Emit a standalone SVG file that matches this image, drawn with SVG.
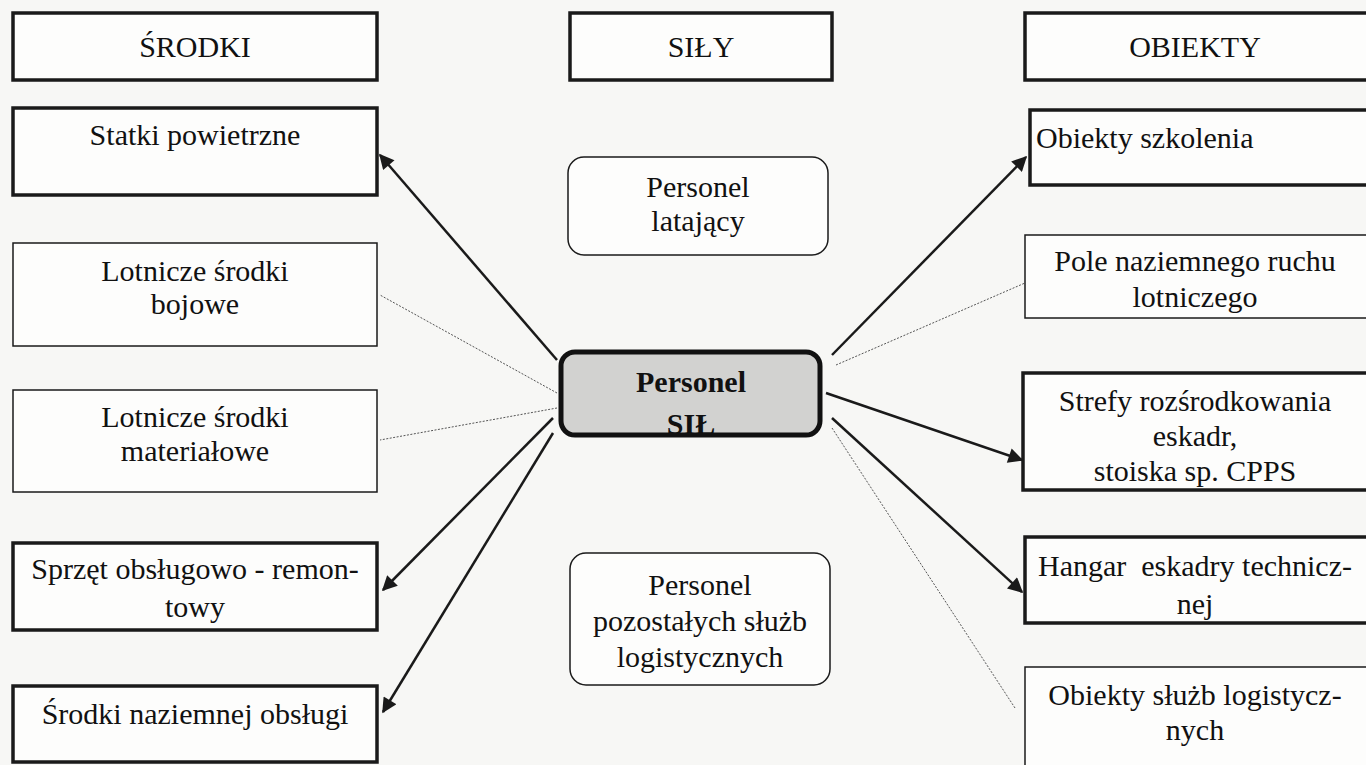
<svg xmlns="http://www.w3.org/2000/svg" width="1366" height="765" viewBox="0 0 1366 765">
<defs>
<style>
.t{font-family:"Liberation Serif","Times New Roman",serif;font-size:30px;fill:#111;text-anchor:middle}
.b{font-weight:bold}
.thick{fill:#fdfdfc;stroke:#1a1a1a;stroke-width:3.5}
.thin{fill:#fdfdfc;stroke:#1a1a1a;stroke-width:1.5}
.arr{stroke:#1a1a1a;stroke-width:2.5;fill:none;marker-end:url(#ah)}
.dot{stroke:#555;stroke-width:1;fill:none;stroke-dasharray:2 1.5}
</style>
<marker id="ah" viewBox="0 0 10 10" refX="9" refY="5" markerWidth="7" markerHeight="6" markerUnits="strokeWidth" orient="auto">
<path d="M0,0 L10,5 L0,10 z" fill="#1a1a1a"/>
</marker>
</defs>
<rect width="1366" height="765" fill="#f7f7f5"/>

<g id="connectors">
<line class="arr" x1="557" y1="360" x2="380" y2="155"/>
<line class="dot" x1="557" y1="393" x2="380" y2="295"/>
<line class="dot" x1="557" y1="408" x2="380" y2="440"/>
<line class="arr" x1="553" y1="418" x2="383" y2="590"/>
<line class="arr" x1="553" y1="433" x2="383" y2="712"/>
<line class="arr" x1="832" y1="355" x2="1026" y2="157"/>
<line class="dot" x1="836" y1="365" x2="1025" y2="283"/>
<line class="arr" x1="826" y1="393" x2="1022" y2="460"/>
<line class="arr" x1="832" y1="418" x2="1022" y2="592"/>
<line class="dot" x1="832" y1="428" x2="1015" y2="708"/>
</g>

<g id="srodki">
<rect class="thick" x="13" y="13" width="364" height="67"/>
<text class="t" x="195" y="57">ŚRODKI</text>
</g>
<g id="statki">
<rect class="thick" x="13" y="108" width="364" height="87"/>
<text class="t" x="195" y="145">Statki powietrzne</text>
</g>
<g id="bojowe">
<rect class="thin" x="13" y="243" width="364" height="103"/>
<text class="t" x="195" y="281">Lotnicze środki</text>
<text class="t" x="195" y="314">bojowe</text>
</g>
<g id="materialowe">
<rect class="thin" x="13" y="390" width="364" height="102"/>
<text class="t" x="195" y="427">Lotnicze środki</text>
<text class="t" x="195" y="461">materiałowe</text>
</g>
<g id="sprzet">
<rect class="thick" x="13" y="543" width="364" height="87"/>
<text class="t" x="195" y="579">Sprzęt obsługowo - remon-</text>
<text class="t" x="195" y="617">towy</text>
</g>
<g id="naziemne">
<rect class="thick" x="13" y="686" width="364" height="76"/>
<text class="t" x="195" y="724">Środki naziemnej obsługi</text>
</g>

<g id="sily">
<rect class="thick" x="570" y="13" width="262" height="67"/>
<text class="t" x="701" y="57">SIŁY</text>
</g>
<g id="latajacy">
<rect class="thin" x="568" y="157" width="260" height="98" rx="16"/>
<text class="t" x="698" y="197">Personel</text>
<text class="t" x="698" y="231">latający</text>
</g>
<g id="personel-sil">
<rect x="561" y="352" width="259" height="83" rx="14" fill="#d2d2d0"/>
<text class="t b" x="691" y="392">Personel</text>
<text class="t b" x="691" y="434">SIŁ</text>
<rect x="561" y="352" width="259" height="83" rx="14" fill="none" stroke="#111" stroke-width="5"/>
</g>
<g id="pozostali">
<rect class="thin" x="570" y="553" width="260" height="132" rx="16"/>
<text class="t" x="700" y="595">Personel</text>
<text class="t" x="700" y="631">pozostałych służb</text>
<text class="t" x="700" y="667">logistycznych</text>
</g>

<g id="obiekty">
<rect class="thick" x="1025" y="13" width="350" height="67"/>
<text class="t" x="1195" y="57">OBIEKTY</text>
</g>
<g id="szkolenia">
<rect class="thick" x="1030" y="110" width="345" height="75"/>
<text class="t" x="1036" y="148" style="text-anchor:start">Obiekty szkolenia</text>
</g>
<g id="pole">
<rect class="thin" x="1025" y="235" width="350" height="83"/>
<text class="t" x="1195" y="271">Pole naziemnego ruchu</text>
<text class="t" x="1195" y="307">lotniczego</text>
</g>
<g id="strefy">
<rect class="thick" x="1023" y="373" width="352" height="117"/>
<text class="t" x="1195" y="411">Strefy rozśrodkowania</text>
<text class="t" x="1195" y="446">eskadr,</text>
<text class="t" x="1195" y="481">stoiska sp. CPPS</text>
</g>
<g id="hangar">
<rect class="thick" x="1025" y="537" width="350" height="86"/>
<text class="t" x="1195" y="576" xml:space="preserve">Hangar  eskadry technicz-</text>
<text class="t" x="1195" y="614">nej</text>
</g>
<g id="logistyczne">
<rect class="thin" x="1025" y="667" width="350" height="110"/>
<text class="t" x="1195" y="705">Obiekty służb logistycz-</text>
<text class="t" x="1195" y="740">nych</text>
</g>
</svg>
